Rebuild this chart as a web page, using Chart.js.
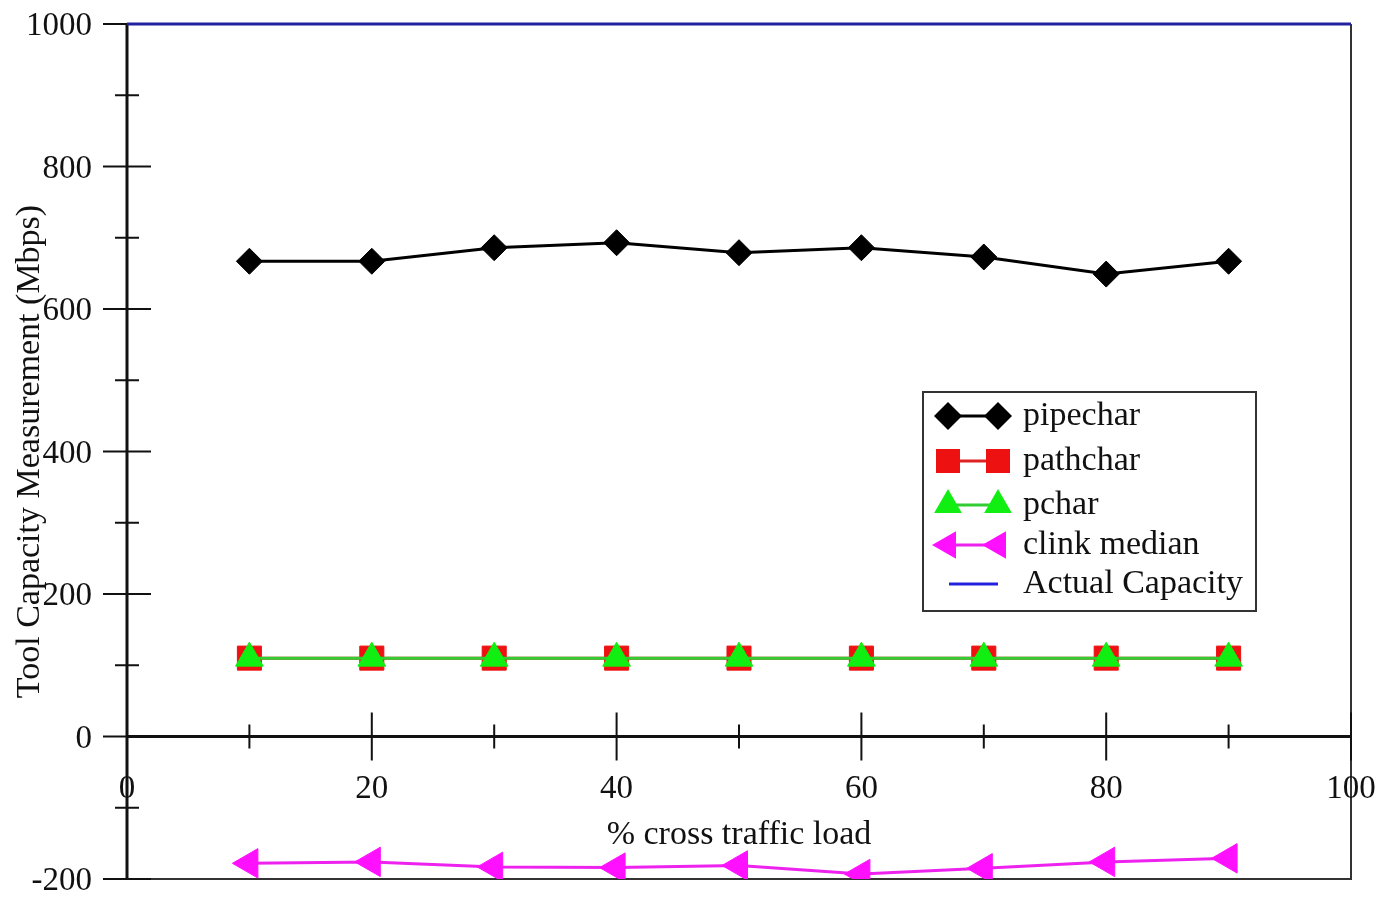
<!DOCTYPE html>
<html>
<head>
<meta charset="utf-8">
<script src="https://cdn.jsdelivr.net/npm/chart.js@4/dist/chart.umd.min.js"></script>
<style>
  html, body { margin: 0; padding: 0; background: #ffffff; }
  canvas { display: block; }
</style>
</head>
<body>
<canvas id="chart" width="1379" height="897"></canvas>
<script>
// Cross-traffic load (%) at which each tool was run
const loads = [10, 20, 30, 40, 50, 60, 70, 80, 90];

// Capacity reported by each tool (Mbps)
const pipechar = [667, 667, 686, 693, 679, 686, 673, 649, 667];
const pathchar = [110, 110, 110, 110, 110, 110, 110, 110, 110];
const pchar    = [110, 110, 110, 110, 110, 110, 110, 110, 110];
const clinkMedian = [-178, -176, -183, -184, -181, -193, -185, -176, -171];

// True link capacity across the whole load range
const capacityLoads = [0, 100];
const capacityValues = [1000, 1000];

// Axis ticks
const xTickLabels = [0, 20, 40, 60, 80, 100];
const xMinorTicks = [10, 30, 50, 70, 90];
const yTickLabels = [-200, 0, 200, 400, 600, 800, 1000];
const yMinorTicks = [-100, 100, 300, 500, 700, 900];

const xTitle = '% cross traffic load';
const yTitle = 'Tool Capacity Measurement (Mbps)';

const FONT = '"Liberation Serif", "Times New Roman", serif';
const BLUE = '#22229e';

const toPoints = (xs, ys) => xs.map((x, i) => ({ x: x, y: ys[i] }));

const series = [
  { label: 'pipechar', values: pipechar, color: '#000000', line: '#000000',
    pointStyle: 'rectRot', radius: 13, rotation: 0, order: 1 },
  { label: 'pathchar', values: pathchar, color: '#ee1111', line: '#dd2222',
    pointStyle: 'rect', radius: 17, rotation: 0, order: 3 },
  { label: 'pchar', values: pchar, color: '#11ee11', line: '#33cc33',
    pointStyle: 'triangle', radius: 16, rotation: 0, order: 2 },
  { label: 'clink median', values: clinkMedian, color: '#ff11ff', line: '#ee22ee',
    pointStyle: 'triangle', radius: 17, rotation: -90, order: 1 }
];

const datasets = series.map(s => ({
  label: s.label,
  data: toPoints(loads, s.values),
  borderColor: s.line,
  backgroundColor: s.color,
  borderWidth: 3,
  pointStyle: s.pointStyle,
  pointRadius: s.radius,
  pointRotation: s.rotation,
  pointBackgroundColor: s.color,
  pointBorderColor: s.color,
  pointBorderWidth: 1,
  pointHoverRadius: s.radius,
  tension: 0,
  order: s.order
}));

datasets.push({
  label: 'Actual Capacity',
  data: toPoints(capacityLoads, capacityValues),
  borderColor: BLUE,
  backgroundColor: BLUE,
  borderWidth: 3,
  pointRadius: 0,
  pointHoverRadius: 0,
  tension: 0,
  order: 0,
  clip: 4
});

// Small marker painter for the legend box
function marker(ctx, style, x, y, r, rotation, color) {
  ctx.save();
  ctx.translate(x, y);
  ctx.rotate(rotation * Math.PI / 180);
  ctx.fillStyle = color;
  ctx.beginPath();
  if (style === 'rectRot') {
    ctx.moveTo(0, -r); ctx.lineTo(r, 0); ctx.lineTo(0, r); ctx.lineTo(-r, 0);
  } else if (style === 'rect') {
    const h = r * Math.SQRT1_2;
    ctx.rect(-h, -h, 2 * h, 2 * h);
  } else if (style === 'triangle') {
    for (let k = 0; k < 3; k++) {
      const a = k * 2 * Math.PI / 3;
      const px = Math.sin(a) * r, py = -Math.cos(a) * r;
      if (k === 0) ctx.moveTo(px, py); else ctx.lineTo(px, py);
    }
  }
  ctx.closePath();
  ctx.fill();
  ctx.restore();
}

const frameAndAxes = {
  id: 'frameAndAxes',
  beforeDatasetsDraw(chart) {
    const { ctx, chartArea: a, scales: { x, y } } = chart;
    const x0 = x.getPixelForValue(0);
    const y0 = y.getPixelForValue(0);
    ctx.save();
    ctx.lineCap = 'butt';

    // right and bottom frame edges
    ctx.strokeStyle = '#333333';
    ctx.lineWidth = 2;
    ctx.beginPath();
    ctx.moveTo(x.getPixelForValue(100), a.top);
    ctx.lineTo(x.getPixelForValue(100), y.getPixelForValue(-200));
    ctx.lineTo(x0, y.getPixelForValue(-200));
    ctx.stroke();

    // zero line acting as the x axis
    ctx.strokeStyle = '#111111';
    ctx.lineWidth = 3;
    ctx.beginPath();
    ctx.moveTo(x0, y0);
    ctx.lineTo(x.getPixelForValue(100), y0);
    ctx.stroke();

    // y axis
    ctx.beginPath();
    ctx.moveTo(x0, y.getPixelForValue(1000) - 1);
    ctx.lineTo(x0, y.getPixelForValue(-200) + 1);
    ctx.stroke();

    // crossing tick marks
    ctx.lineWidth = 2;
    ctx.beginPath();
    yTickLabels.forEach(v => {
      const py = y.getPixelForValue(v);
      ctx.moveTo(x0 - 24, py); ctx.lineTo(x0 + 24, py);
    });
    yMinorTicks.forEach(v => {
      const py = y.getPixelForValue(v);
      ctx.moveTo(x0 - 12, py); ctx.lineTo(x0 + 12, py);
    });
    xTickLabels.forEach(v => {
      const px = x.getPixelForValue(v);
      ctx.moveTo(px, y0 - 24); ctx.lineTo(px, y0 + 24);
    });
    xMinorTicks.forEach(v => {
      const px = x.getPixelForValue(v);
      ctx.moveTo(px, y0 - 12); ctx.lineTo(px, y0 + 12);
    });
    ctx.stroke();
    ctx.restore();
  },
  afterDraw(chart) {
    const { ctx, scales: { x, y } } = chart;
    const x0 = x.getPixelForValue(0);
    const y0 = y.getPixelForValue(0);
    ctx.save();
    ctx.fillStyle = '#111111';
    ctx.font = '33px ' + FONT;

    // y tick labels
    ctx.textAlign = 'right';
    ctx.textBaseline = 'alphabetic';
    yTickLabels.forEach(v => {
      ctx.fillText(String(v), x0 - 35, y.getPixelForValue(v) + 11);
    });

    // x tick labels under the zero line
    ctx.textAlign = 'center';
    xTickLabels.forEach(v => {
      ctx.fillText(String(v), x.getPixelForValue(v), y0 + 61);
    });

    // axis titles
    ctx.font = '34px ' + FONT;
    ctx.fillText(xTitle, x.getPixelForValue(50), y0 + 107);
    ctx.save();
    ctx.translate(30, (y.getPixelForValue(1000) + y.getPixelForValue(-200)) / 2);
    ctx.rotate(-Math.PI / 2);
    ctx.textBaseline = 'middle';
    ctx.fillText(yTitle, 0, 0);
    ctx.restore();

    // legend box
    const box = { left: 923, top: 392, right: 1256, bottom: 611 };
    ctx.fillStyle = '#ffffff';
    ctx.fillRect(box.left, box.top, box.right - box.left, box.bottom - box.top);
    ctx.strokeStyle = '#333333';
    ctx.lineWidth = 2;
    ctx.strokeRect(box.left, box.top, box.right - box.left, box.bottom - box.top);

    const rows = [
      { s: series[0], cy: 416, r: 14 },
      { s: series[1], cy: 461, r: 17 },
      { s: series[2], cy: 505, r: 16 },
      { s: series[3], cy: 545, r: 16 }
    ];
    rows.forEach(row => {
      const s = row.s;
      ctx.strokeStyle = s.line;
      ctx.lineWidth = 3;
      ctx.beginPath();
      ctx.moveTo(948, row.cy);
      ctx.lineTo(998, row.cy);
      ctx.stroke();
      marker(ctx, s.pointStyle, 948, row.cy, row.r, s.rotation, s.color);
      marker(ctx, s.pointStyle, 998, row.cy, row.r, s.rotation, s.color);
      ctx.fillStyle = '#111111';
      ctx.textAlign = 'left';
      ctx.textBaseline = 'alphabetic';
      ctx.fillText(s.label, 1023, row.cy + 9);
    });
    // capacity entry
    ctx.strokeStyle = '#2222dd';
    ctx.lineWidth = 3;
    ctx.beginPath();
    ctx.moveTo(949, 584);
    ctx.lineTo(998, 584);
    ctx.stroke();
    ctx.fillStyle = '#111111';
    ctx.fillText('Actual Capacity', 1023, 593);
    ctx.restore();
  }
};

new Chart(document.getElementById('chart'), {
  type: 'line',
  data: { datasets: datasets },
  options: {
    responsive: false,
    animation: false,
    events: [],
    layout: { padding: { left: 127, top: 24, right: 28, bottom: 16 } },
    plugins: {
      legend: { display: false },
      tooltip: { enabled: false },
      title: { display: false }
    },
    scales: {
      x: { type: 'linear', min: 0, max: 100, display: false },
      y: { type: 'linear', min: -200, max: 1000, display: false }
    }
  },
  plugins: [frameAndAxes]
});
</script>
</body>
</html>
